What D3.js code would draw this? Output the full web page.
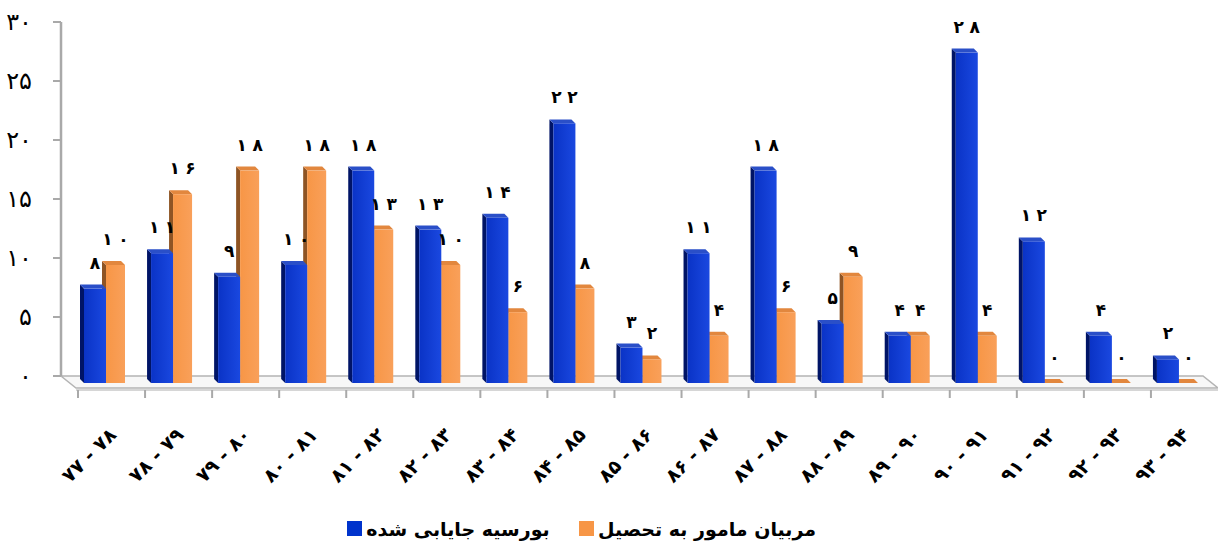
<!DOCTYPE html>
<html>
<head>
<meta charset="utf-8">
<script src="https://cdn.jsdelivr.net/npm/d3@7/dist/d3.min.js"></script>
<style>
  html, body { margin: 0; padding: 0; background: #ffffff; }
  svg { display: block; }
</style>
</head>
<body>
<svg id="chart" width="1218" height="544"></svg>
<script>
const categories = ["۷۷ - ۷۸","۷۸ - ۷۹","۷۹ - ۸۰","۸۰ - ۸۱","۸۱ - ۸۲","۸۲ - ۸۳","۸۳ - ۸۴","۸۴ - ۸۵","۸۵ - ۸۶","۸۶ - ۸۷","۸۷ - ۸۸","۸۸ - ۸۹","۸۹ - ۹۰","۹۰ - ۹۱","۹۱ - ۹۲","۹۲ - ۹۳","۹۳ - ۹۴"];
const scholarship = [8, 11, 9, 10, 18, 13, 14, 22, 3, 11, 18, 5, 4, 28, 12, 4, 2];
const assigned    = [10, 16, 18, 18, 13, 10, 6, 8, 2, 4, 6, 9, 4, 4, 0, 0, 0];
const yTicks = [0, 5, 10, 15, 20, 25, 30];
const seriesNames = ["بورسیه جایابی شده", "مربیان مامور به تحصیل"];

const fa = n => String(n).replace(/\d/g, d => "۰۱۲۳۴۵۶۷۸۹"[d]);
const faSpaced = n => fa(n).split("").join("\u2004");

const svg = d3.select("#chart");
const FONT = "'DejaVu Sans', sans-serif";

const y = d3.scaleLinear().domain([0, 30]).range([376, 22]);
const frontShift = 7;
const x = d3.scaleBand().domain(categories).range([78, 1218]).padding(0);

const depth = { dx: -4, dy: -4 };

// gradients
const defs = svg.append("defs");
function grad(id, c1, c2) {
  const g = defs.append("linearGradient").attr("id", id).attr("x1", 0).attr("x2", 1).attr("y1", 0).attr("y2", 0);
  g.append("stop").attr("offset", "0%").attr("stop-color", c1);
  g.append("stop").attr("offset", "100%").attr("stop-color", c2);
}
grad("gBlue", "#0A33C6", "#1A48E0");
grad("gOrange", "#F79646", "#F9A05A");

// floor
const floorBack = y(0), floorFront = 388;
svg.append("polygon")
  .attr("points", [[61, floorBack], [1203, floorBack], [1218, floorFront], [76, floorFront]].map(p => p.join(",")).join(" "))
  .attr("fill", "#f7f7f7").attr("stroke", "#b4b4b4").attr("stroke-width", 1.5);
svg.append("line").attr("x1", 76).attr("x2", 1218).attr("y1", floorFront + 2).attr("y2", floorFront + 2)
  .attr("stroke", "#c8c8c8").attr("stroke-width", 1.5);

// y axis
svg.append("line").attr("x1", 61).attr("x2", 61).attr("y1", y(30)).attr("y2", y(0))
  .attr("stroke", "#a9a9a9").attr("stroke-width", 2.5);
svg.selectAll(".ytick").data(yTicks).enter().append("line")
  .attr("x1", 53).attr("x2", 61).attr("y1", d => y(d)).attr("y2", d => y(d))
  .attr("stroke", "#a9a9a9").attr("stroke-width", 2);
svg.selectAll(".ylab").data(yTicks).enter().append("text")
  .attr("x", 32).attr("y", d => y(d) + 8)
  .attr("text-anchor", "end")
  .attr("font-family", FONT).attr("font-size", 24)
  .attr("fill", "#000")
  .text(d => fa(d));

// x ticks
svg.selectAll(".xtick").data(categories).enter().append("line")
  .attr("x1", d => x(d)).attr("x2", d => x(d)).attr("y1", floorFront + 2).attr("y2", floorFront + 10)
  .attr("stroke", "#a9a9a9").attr("stroke-width", 2);

// x labels
svg.selectAll(".xlab").data(categories).enter().append("text")
  .attr("transform", d => `translate(${x(d) + x.bandwidth() / 2 + 6},${436}) rotate(-45)`)
  .attr("text-anchor", "end")
  .attr("direction", "ltr")
  .attr("font-family", FONT).attr("font-size", 19).attr("font-weight", "bold")
  .attr("fill", "#000")
  .text(d => d);

// bars
const colors = {
  b: { front: "url(#gBlue)", side: "#001466", top: "#2A4FC8", width: 22, off: 6 },
  o: { front: "url(#gOrange)", side: "#8E5424", top: "#E2873E", width: 19, off: 28 }
};
const bars = [];
categories.forEach((c, i) => {
  bars.push({ c, key: "b", v: scholarship[i] });
  bars.push({ c, key: "o", v: assigned[i] });
});
const order = bars.filter(d => d.key === "o").concat(bars.filter(d => d.key === "b"));

order.forEach(d => {
  const st = colors[d.key];
  const x0 = x(d.c) + st.off;
  const w = st.width;
  const yTop = y(d.v) + frontShift;
  const yBase = y(0) + frontShift;
  const g = svg.append("g");
  const h = Math.max(yBase - yTop, 0);
  if (d.v === 0) {
    g.append("polygon")
      .attr("points", [[x0, yBase], [x0 + w, yBase], [x0 + w + depth.dx, yBase + depth.dy], [x0 + depth.dx, yBase + depth.dy]].map(p => p.join(",")).join(" "))
      .attr("fill", st.top);
    return;
  }
  g.append("polygon")
    .attr("points", [[x0, yTop], [x0 + depth.dx, yTop + depth.dy], [x0 + depth.dx, yBase + depth.dy], [x0, yBase]].map(p => p.join(",")).join(" "))
    .attr("fill", st.side);
  g.append("polygon")
    .attr("points", [[x0, yTop], [x0 + w, yTop], [x0 + w + depth.dx, yTop + depth.dy], [x0 + depth.dx, yTop + depth.dy]].map(p => p.join(",")).join(" "))
    .attr("fill", st.top);
  g.append("rect").attr("x", x0).attr("y", yTop).attr("width", w).attr("height", h)
    .attr("fill", st.front);
});

// data labels
bars.forEach(d => {
  const st = colors[d.key];
  const x0 = x(d.c) + st.off;
  const cx = x0 + st.width / 2;
  const yTop = y(d.v) + frontShift;
  svg.append("text")
    .attr("x", cx).attr("y", yTop - 20)
    .attr("text-anchor", "middle")
    .attr("direction", "ltr")
    .attr("font-family", FONT).attr("font-size", 17).attr("font-weight", "bold")
    .attr("fill", "#000")
    .text(faSpaced(d.v));
});

// legend
const legend = [
  { name: seriesNames[0], color: "#0033CC", sx: 347, tx: 458 },
  { name: seriesNames[1], color: "#F79646", sx: 579, tx: 707 }
];
legend.forEach(l => {
  svg.append("rect").attr("x", l.sx).attr("y", 521).attr("width", 15).attr("height", 15).attr("fill", l.color);
  svg.append("text").attr("x", l.tx).attr("y", 536)
    .attr("text-anchor", "middle")
    .attr("font-family", FONT).attr("font-size", 19).attr("font-weight", "bold")
    .attr("fill", "#000")
    .text(l.name);
});
</script>
</body>
</html>
